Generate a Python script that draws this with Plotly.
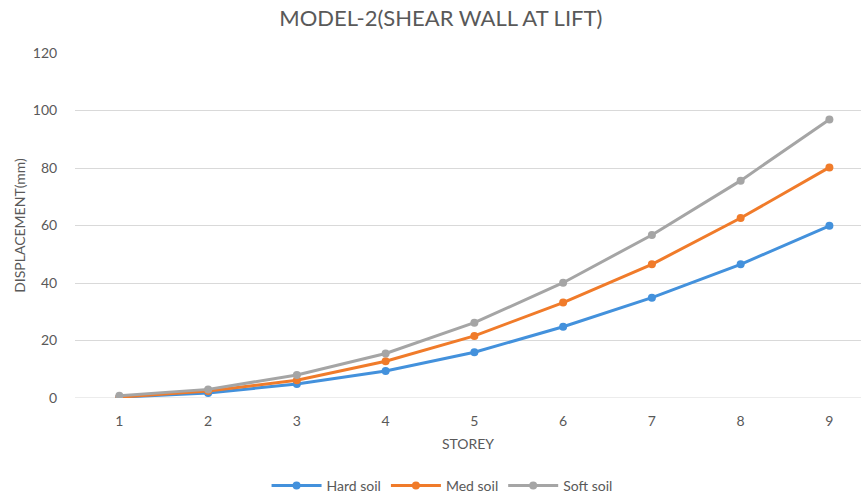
import plotly.graph_objects as go

storey = [1, 2, 3, 4, 5, 6, 7, 8, 9]
hard_soil = [0.3, 1.7, 4.9, 9.4, 15.9, 24.8, 34.9, 46.5, 59.9]
med_soil = [0.3, 2.4, 6.2, 12.8, 21.6, 33.2, 46.5, 62.6, 80.2]
soft_soil = [0.8, 3.0, 8.0, 15.5, 26.2, 40.1, 56.7, 75.6, 96.9]
y_ticks = [0, 20, 40, 60, 80, 100, 120]

series = [
    ("Hard soil", hard_soil, "#4391DC"),
    ("Med soil", med_soil, "#F07B2A"),
    ("Soft soil", soft_soil, "#A5A5A5"),
]

fig = go.Figure()
for name, vals, col in series:
    fig.add_trace(go.Scatter(
        x=storey, y=vals, name=name, mode="lines+markers",
        line=dict(color=col, width=3),
        marker=dict(color=col, size=8),
    ))

font_fam = "Lato, Open Sans, sans-serif"
fig.update_layout(
    width=861, height=502,
    margin=dict(l=75, r=0, t=53, b=104),
    paper_bgcolor="white", plot_bgcolor="white",
    font=dict(family=font_fam, color="#595959", size=13),
    title=dict(text="MODEL-2(SHEAR WALL AT LIFT)", x=0.512, xanchor="center",
               y=0.963, yanchor="middle",
               font=dict(size=22, color="#595959", family=font_fam)),
    showlegend=True,
    legend=dict(orientation="h", x=0.467, xanchor="center", y=-0.255, yanchor="middle",
                font=dict(size=14, color="#595959"), itemwidth=50, tracegroupgap=0),
    xaxis=dict(range=[0.5, 9.356], tickvals=storey, ticktext=[str(s) for s in storey],
               showgrid=False, zeroline=False, showline=False, ticks="outside",
               ticklen=10, tickcolor="white",
               title=dict(text="STOREY", font=dict(size=14, color="#595959"), standoff=11),
               tickfont=dict(size=14, color="#595959")),
    yaxis=dict(range=[0, 120], tickvals=y_ticks, showgrid=True, gridcolor="#D9D9D9",
               gridwidth=1, zeroline=False, showline=False, ticks="outside",
               ticklen=14, tickcolor="white",
               title=dict(text="DISPLACEMENT(mm)", font=dict(size=14, color="#595959"), standoff=3),
               tickfont=dict(size=14, color="#595959")),
)
fig.add_shape(type="line", xref="paper", yref="y", x0=0, x1=1, y0=0, y1=0,
              line=dict(color="#D9D9D9", width=1), layer="below")

fig.write_html("out.html")
